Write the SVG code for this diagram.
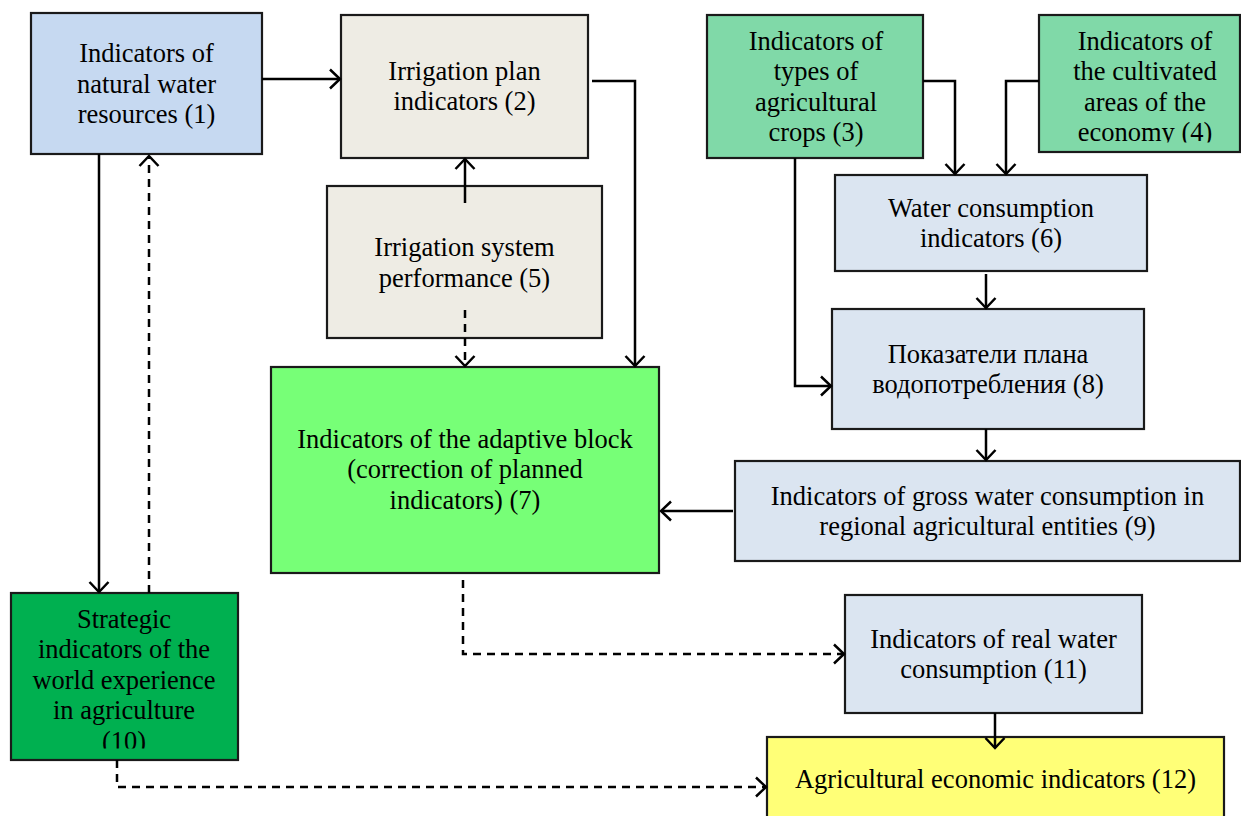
<svg xmlns="http://www.w3.org/2000/svg" width="1241" height="816" viewBox="0 0 1241 816">
<style>
.box{stroke:#1a1a1a;stroke-width:2.2}
.t{font-family:"Liberation Serif","Times New Roman",serif;font-size:26.5px;fill:#000;text-anchor:middle}
.c{fill:none;stroke:#000;stroke-width:2.5}
.d{stroke-dasharray:8,6}
.ah{fill:none;stroke:#000;stroke-width:2.5;stroke-linejoin:miter}
</style>
<defs>
<marker id="arr" markerUnits="userSpaceOnUse" markerWidth="24" markerHeight="24" viewBox="-12 -12 24 24" refX="0" refY="0" orient="auto" overflow="visible">
<path d="M-10,-9.5 L0,0 L-10,9.5" class="ah"/>
</marker>
<clipPath id="clip4"><rect x="1039" y="15" width="202" height="127.5"/></clipPath>
<clipPath id="clip10"><rect x="11" y="593" width="227" height="155.5"/></clipPath>
</defs>
<rect width="1241" height="816" fill="#fff"/>

<g id="n1">
<rect class="box" x="31" y="13" width="231" height="141" fill="#c6d9f1"/>
<text class="t" x="146.5" y="62">Indicators of</text>
<text class="t" x="146.5" y="93">natural water</text>
<text class="t" x="146.5" y="123">resources (1)</text>
</g>
<g id="n2">
<rect class="box" x="341" y="15" width="247" height="143" fill="#eeece4"/>
<text class="t" x="464.5" y="80">Irrigation plan</text>
<text class="t" x="464.5" y="110">indicators (2)</text>
</g>
<g id="n5">
<rect class="box" x="327" y="186" width="275" height="152" fill="#eeece4"/>
<text class="t" x="464.5" y="256">Irrigation system</text>
<text class="t" x="464.5" y="287">performance (5)</text>
</g>
<g id="n3">
<rect class="box" x="707" y="15" width="216" height="143" fill="#80d9a8"/>
<text class="t" x="816" y="50">Indicators of</text>
<text class="t" x="816" y="80">types of</text>
<text class="t" x="816" y="111">agricultural</text>
<text class="t" x="816" y="141">crops (3)</text>
</g>
<g id="n4">
<rect class="box" x="1039" y="15" width="201" height="137" fill="#80d9a8"/>
<g clip-path="url(#clip4)">
<text class="t" x="1145" y="50">Indicators of</text>
<text class="t" x="1145" y="80">the cultivated</text>
<text class="t" x="1145" y="111">areas of the</text>
<text class="t" x="1145" y="141">economy (4)</text>
</g>
</g>
<g id="n6">
<rect class="box" x="835" y="175" width="312" height="96" fill="#dbe5f1"/>
<text class="t" x="991" y="217">Water consumption</text>
<text class="t" x="991" y="247">indicators (6)</text>
</g>
<g id="n8">
<rect class="box" x="832" y="309" width="312" height="120" fill="#dbe5f1"/>
<text class="t" x="988" y="363">Показатели плана</text>
<text class="t" x="988" y="393">водопотребления (8)</text>
</g>
<g id="n7">
<rect class="box" x="271" y="367" width="388" height="206" fill="#77ff77"/>
<text class="t" x="465" y="448">Indicators of the adaptive block</text>
<text class="t" x="465" y="478">(correction of planned</text>
<text class="t" x="465" y="509">indicators) (7)</text>
</g>
<g id="n9">
<rect class="box" x="735" y="461" width="505" height="100" fill="#dbe5f1"/>
<text class="t" x="987.5" y="505">Indicators of gross water consumption in</text>
<text class="t" x="987.5" y="535">regional agricultural entities (9)</text>
</g>
<g id="n10">
<rect class="box" x="11" y="593" width="227" height="167" fill="#00b050"/>
<g clip-path="url(#clip10)">
<text class="t" x="124" y="628">Strategic</text>
<text class="t" x="124" y="658">indicators of the</text>
<text class="t" x="124" y="689">world experience</text>
<text class="t" x="124" y="719">in agriculture</text>
<text class="t" x="124" y="750">(10)</text>
</g>
</g>
<g id="n11">
<rect class="box" x="845" y="595" width="297" height="118" fill="#dbe5f1"/>
<text class="t" x="993.5" y="648">Indicators of real water</text>
<text class="t" x="993.5" y="678">consumption (11)</text>
</g>
<g id="n12">
<rect class="box" x="767" y="737" width="457" height="90" fill="#ffff77"/>
<text class="t" x="995.5" y="788">Agricultural economic indicators (12)</text>
</g>

<g id="connectors">
<path class="c" d="M262,79 H340" marker-end="url(#arr)"/>
<path class="c" d="M99,154 V592" marker-end="url(#arr)"/>
<path class="c d" d="M149,593 V156" marker-end="url(#arr)"/>
<path class="c" d="M465,203 V159" marker-end="url(#arr)"/>
<path class="c d" d="M465,310 V366" marker-end="url(#arr)"/>
<path class="c" d="M592,81 H635 V366" marker-end="url(#arr)"/>
<path class="c" d="M923,81 H955 V174" marker-end="url(#arr)"/>
<path class="c" d="M1039,81 H1006 V174" marker-end="url(#arr)"/>
<path class="c" d="M795,158 V386 H831" marker-end="url(#arr)"/>
<path class="c" d="M986,274 V308" marker-end="url(#arr)"/>
<path class="c" d="M986,429 V460" marker-end="url(#arr)"/>
<path class="c" d="M733,511 H661" marker-end="url(#arr)"/>
<path class="c d" d="M463,580 V654 H844" marker-end="url(#arr)"/>
<path class="c" d="M995,713 V748" marker-end="url(#arr)"/>
<path class="c d" d="M117,760 V787 H766" marker-end="url(#arr)"/>
</g>
</svg>
